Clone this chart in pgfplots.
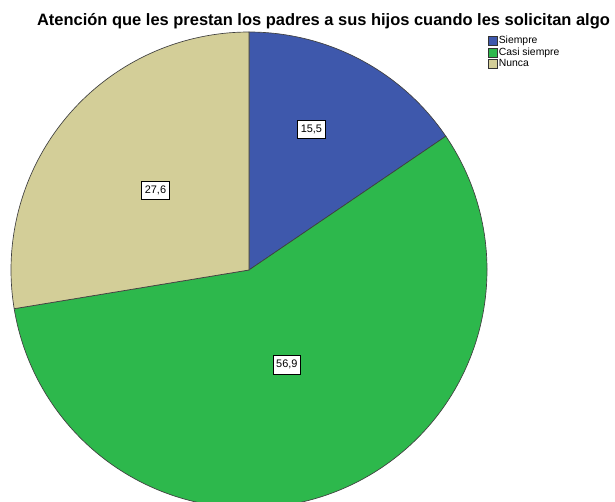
\documentclass[border=0pt]{standalone}
\usepackage{fontspec}
\setmainfont{Liberation Sans}
\usepackage{pgfplots}
\pgfplotsset{compat=1.18}

\definecolor{siempre}{HTML}{3E58AC}
\definecolor{casi}{HTML}{2DB84C}
\definecolor{nunca}{HTML}{D3CE98}

% percentages
\def\vA{15.5}
\def\vB{56.9}
\def\vC{27.6}
\pgfmathsetmacro\aA{90}
\pgfmathsetmacro\aB{\aA-3.6*\vA}
\pgfmathsetmacro\aC{\aB-3.6*\vB}
\pgfmathsetmacro\aD{\aC-3.6*\vC}
\def\R{178.5pt}

\tikzset{lbl/.style={draw=black, fill=white, inner xsep=2.4pt, inner ysep=3.3pt,
    text height=6pt, text depth=1.2pt, line width=0.6pt, font=\fontsize{8.2}{9}\selectfont}}

\begin{document}
\begin{tikzpicture}
\begin{axis}[
    at={(0pt,0pt)}, anchor=origin,
    x=0.75pt, y=0.75pt,
    xmin=0, xmax=615, ymin=0, ymax=501,
    hide axis,
    legend style={at={(488/615,466/501)}, anchor=north west, draw=none, fill=none,
        font=\fontsize{7.8}{8}\selectfont, row sep=0pt, inner sep=0pt,
        nodes={inner sep=0.7pt},
        /tikz/every even column/.append style={column sep=2pt}},
    legend cell align=left,
    legend image code/.code={\draw[#1] (0pt,-3.3pt) rectangle (6.8pt,3.3pt);},
]
\addlegendimage{fill=siempre, draw=black!80}
\addlegendentry{Siempre}
\addlegendimage{fill=casi, draw=black!80}
\addlegendentry{Casi siempre}
\addlegendimage{fill=nunca, draw=black!80}
\addlegendentry{Nunca}

\filldraw[fill=siempre, draw=black!75, line width=0.5pt] (axis cs:249,231) -- ++(\aA:\R) arc[start angle=\aA, end angle=\aB, radius=\R] -- cycle;
\filldraw[fill=casi, draw=black!75, line width=0.5pt] (axis cs:249,231) -- ++(\aB:\R) arc[start angle=\aB, end angle=\aC, radius=\R] -- cycle;
\filldraw[fill=nunca, draw=black!75, line width=0.5pt] (axis cs:249,231) -- ++(\aC:\R) arc[start angle=\aC, end angle=\aD, radius=\R] -- cycle;

\path (axis cs:249,231) ++({(\aA+\aB)/2+4}:115.5pt) node[lbl] {15,5};
\path (axis cs:249,231) ++({(\aB+\aC)/2}:76.5pt) node[lbl] {56,9};
\path (axis cs:249,231) ++({(\aC+\aD)/2}:92pt) node[lbl] {27,6};

\node[anchor=base, font=\bfseries\fontsize{12.35}{14}\selectfont] at (axis cs:323.5,475) {Atención que les prestan los padres a sus hijos cuando les solicitan algo};
\end{axis}
\pgfresetboundingbox
\useasboundingbox (0pt,0pt) rectangle (461.25pt,375.75pt);
\end{tikzpicture}
\end{document}
